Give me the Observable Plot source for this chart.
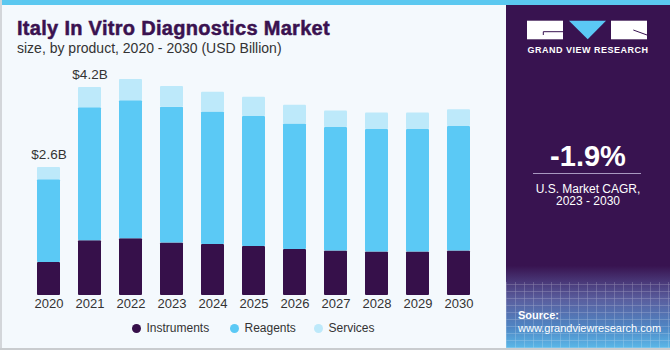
<!DOCTYPE html>
<html>
<head>
<meta charset="utf-8">
<script src="https://cdn.jsdelivr.net/npm/d3@7"></script>
<script src="https://cdn.jsdelivr.net/npm/@observablehq/plot@0.6"></script>
<style>
  html, body { margin: 0; padding: 0; background: #f4f9fd; }
  #root { position: relative; width: 670px; height: 350px; background: #f4f9fd; overflow: hidden; font-family: "Liberation Sans", Arial, sans-serif; }
  .abs { position: absolute; white-space: nowrap; }
  #chart { position: absolute; left: 0; top: 60px; }
</style>
</head>
<body>
<div id="root">
  <div class="abs" style="left:0;top:0;width:670px;height:5px;background:#5bc8f0;"></div>
  <div class="abs" style="left:0;top:0;width:2px;height:350px;background:#d3d6da;"></div>
  <div class="abs" style="left:0;top:348px;width:670px;height:2px;background:#c9cccf;"></div>

  <div class="abs" id="title" style="left:17px;top:18px;font-size:20px;line-height:20px;font-weight:bold;color:#3a1250;letter-spacing:0.3px;-webkit-text-stroke:0.5px #3a1250;"></div>
  <div class="abs" id="subtitle" style="left:17px;top:41px;font-size:14px;line-height:14px;color:#333;"></div>

  <div id="chart"></div>
  <div id="legend"></div>

  <div class="abs" style="left:506px;top:5px;width:164px;height:343px;background:linear-gradient(to bottom,#381350 0%,#381350 76%,#4a3a7a 81%,#5a5f9f 86%,#4f86c4 94%,#5ab8e8 100%);"></div>
  <div class="abs" style="left:506px;top:282px;width:164px;height:66px;opacity:0.35;background-image:repeating-linear-gradient(90deg,rgba(255,255,255,0.5) 0 1px,transparent 1px 9px),repeating-linear-gradient(0deg,rgba(255,255,255,0.5) 0 1px,transparent 1px 7px);"></div>

  <svg class="abs" style="left:506px;top:5px;" width="164" height="60">
    <rect x="21" y="15.7" width="36" height="18.6" fill="#ffffff"/>
    <polyline points="57,26.7 37.3,26.7 37.3,30" fill="none" stroke="#381350" stroke-width="1"/>
    <polygon points="63,15.7 100,15.7 81.7,34.3" fill="#5bc8f5"/>
    <rect x="105" y="15.7" width="36" height="18.6" fill="#ffffff"/>
    <line x1="127.3" y1="25" x2="141" y2="30" stroke="#381350" stroke-width="1"/>
  </svg>
  <div class="abs" id="brand" style="left:506px;width:164px;text-align:center;top:45.5px;font-size:9px;line-height:9px;font-weight:bold;color:#ffffff;letter-spacing:0.5px;"></div>

  <div class="abs" id="cagr" style="left:506px;width:164px;text-align:center;top:141.5px;font-size:29px;line-height:29px;font-weight:bold;color:#ffffff;"></div>
  <div class="abs" style="left:533px;top:173px;width:108px;height:1px;background:#a898c0;"></div>
  <div class="abs" id="cagr1" style="left:506px;width:164px;text-align:center;top:182.5px;font-size:12px;line-height:12px;color:#ffffff;"></div>
  <div class="abs" id="cagr2" style="left:506px;width:164px;text-align:center;top:195px;font-size:12px;line-height:12px;color:#ffffff;"></div>

  <div class="abs" id="src1" style="left:518px;top:309.7px;font-size:11px;line-height:11px;font-weight:bold;color:#ffffff;"></div>
  <div class="abs" id="src2" style="left:518px;top:322.5px;font-size:11px;line-height:11px;color:#ffffff;"></div>
</div>
<script>
// ---- Data ----
const years = ["2020","2021","2022","2023","2024","2025","2026","2027","2028","2029","2030"];
const segments = ["Instruments","Reagents","Services"];
const instruments = [0.67,1.11,1.15,1.06,1.03,0.99,0.93,0.90,0.88,0.88,0.90];
const reagents    = [1.67,2.69,2.79,2.75,2.68,2.63,2.54,2.50,2.48,2.48,2.52];
const services    = [0.25,0.41,0.43,0.42,0.40,0.39,0.38,0.33,0.33,0.33,0.34];
const labelYears  = ["2020","2021"];
const labelTexts  = ["$2.6B","$4.2B"];
const colors      = ["#36104a","#5bc9f5","#bde9fa"];

const titleText = "Italy In Vitro Diagnostics Market";
const subtitleText = "size, by product, 2020 - 2030 (USD Billion)";
const brandText = "GRAND VIEW RESEARCH";
const cagrValue = "-1.9%";
const cagrLine1 = "U.S. Market CAGR,";
const cagrLine2 = "2023 - 2030";
const sourceLabel = "Source:";
const sourceUrl = "www.grandviewresearch.com";

document.getElementById("title").textContent = titleText;
document.getElementById("subtitle").textContent = subtitleText;
document.getElementById("brand").textContent = brandText;
document.getElementById("cagr").textContent = cagrValue;
document.getElementById("cagr1").textContent = cagrLine1;
document.getElementById("cagr2").textContent = cagrLine2;
document.getElementById("src1").textContent = sourceLabel;
document.getElementById("src2").textContent = sourceUrl;

// ---- Build table ----
const seriesValues = [instruments, reagents, services];
const rows = [];
years.forEach((y, i) => {
  segments.forEach((s, j) => rows.push({year: y, segment: s, value: seriesValues[j][i]}));
});
const labels = labelYears.map((y, k) => {
  const i = years.indexOf(y);
  return {year: y, total: instruments[i] + reagents[i] + services[i], text: labelTexts[k]};
});

const chart = Plot.plot({
  width: 506,
  height: 255,
  marginLeft: 23.4,
  marginRight: 22.6,
  marginTop: 18,
  marginBottom: 20,
  style: {background: "transparent", fontFamily: "Liberation Sans, Arial, sans-serif", fontSize: "13px", color: "#333"},
  x: {domain: years, paddingInner: 0.43, paddingOuter: 0.2, label: null, tickSize: 0, tickPadding: 3},
  y: {domain: [0, 4.39], axis: null},
  color: {domain: segments, range: colors},
  marks: [
    Plot.barY(rows, {x: "year", y: "value", fill: "segment", rx: 1}),
    Plot.text(labels, {x: "year", y: "total", text: "text", dy: -8, lineAnchor: "bottom", fontSize: 13.5, fill: "#333"})
  ]
});
document.getElementById("chart").appendChild(chart);

// ---- Legend ----
const legendX = [136, 234, 318];
const legend = document.getElementById("legend");
segments.forEach((s, j) => {
  const dot = document.createElement("div");
  dot.className = "abs";
  dot.style.cssText = `left:${legendX[j]-4.5}px;top:323.5px;width:9px;height:9px;border-radius:50%;background:${colors[j]};`;
  legend.appendChild(dot);
  const t = document.createElement("div");
  t.className = "abs";
  t.style.cssText = `left:${legendX[j]+10.5}px;top:322px;font-size:12px;line-height:12px;color:#333;`;
  t.textContent = s;
  legend.appendChild(t);
});
</script>
</body>
</html>
